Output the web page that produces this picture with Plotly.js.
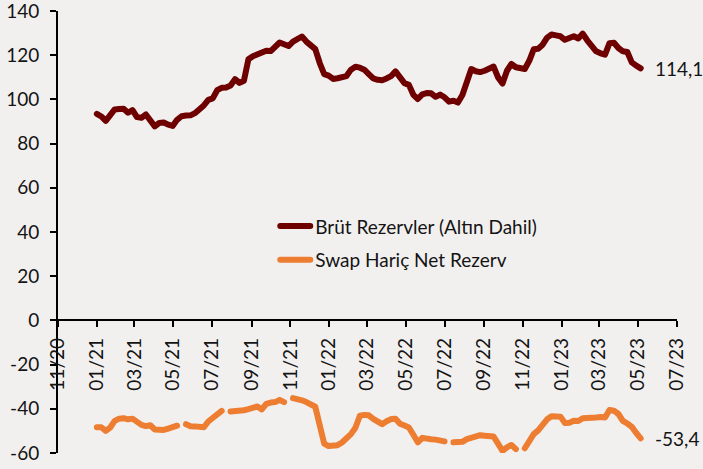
<!DOCTYPE html>
<html>
<head>
<meta charset="utf-8">
<script src="https://cdn.plot.ly/plotly-3.0.1.min.js"></script>
<style>
html,body{margin:0;padding:0;background:#f2f0ef;}
.scatterlayer path.js-line, .legend path.js-line{stroke-linecap:round !important;stroke-linejoin:round !important;}
</style>
</head>
<body>
<div id="chart" style="width:703px;height:469px;"></div>
<script>
const dates = [
"2021-01-01","2021-01-08","2021-01-15","2021-01-22","2021-01-29","2021-02-05","2021-02-12","2021-02-19","2021-02-26","2021-03-05",
"2021-03-12","2021-03-19","2021-03-26","2021-04-02","2021-04-09","2021-04-16","2021-04-23","2021-04-30","2021-05-07","2021-05-14",
"2021-05-21","2021-05-28","2021-06-04","2021-06-11","2021-06-18","2021-06-25","2021-07-02","2021-07-09","2021-07-16","2021-07-23",
"2021-07-30","2021-08-06","2021-08-13","2021-08-20","2021-08-27","2021-09-03","2021-09-10","2021-09-17","2021-09-24","2021-10-01",
"2021-10-08","2021-10-15","2021-10-22","2021-10-29","2021-11-05","2021-11-12","2021-11-19","2021-11-26","2021-12-03","2021-12-10",
"2021-12-17","2021-12-24","2021-12-31","2022-01-07","2022-01-14","2022-01-21","2022-01-28","2022-02-04","2022-02-11","2022-02-18",
"2022-02-25","2022-03-04","2022-03-11","2022-03-18","2022-03-25","2022-04-01","2022-04-08","2022-04-15","2022-04-22","2022-04-29",
"2022-05-06","2022-05-13","2022-05-20","2022-05-27","2022-06-03","2022-06-10","2022-06-17","2022-06-24","2022-07-01","2022-07-08",
"2022-07-15","2022-07-22","2022-07-29","2022-08-05","2022-08-12","2022-08-19","2022-08-26","2022-09-02","2022-09-09","2022-09-16",
"2022-09-23","2022-09-30","2022-10-07","2022-10-14","2022-10-21","2022-10-28","2022-11-04","2022-11-11","2022-11-18","2022-11-25",
"2022-12-02","2022-12-09","2022-12-16","2022-12-23","2022-12-30","2023-01-06","2023-01-13","2023-01-20","2023-01-27","2023-02-03",
"2023-02-10","2023-02-17","2023-02-24","2023-03-03","2023-03-10","2023-03-17","2023-03-24","2023-03-31","2023-04-07","2023-04-14",
"2023-04-21","2023-04-28","2023-05-05"
];

const brutRezerv = [
93.5,92.3,90.3,93.5,95.5,95.7,95.8,94.0,95.2,92.0,
91.7,93.2,90.8,87.8,89.4,89.6,88.6,88.0,90.8,92.4,
92.7,92.8,93.8,95.2,97.3,99.8,100.5,104.2,105.3,105.4,
106.3,109.2,107.5,108.5,118.2,119.6,120.3,120.9,122.1,121.9,
123.8,125.8,125.0,124.2,126.2,127.5,128.5,126.2,124.8,122.8,
116.5,111.5,110.8,109.3,109.6,109.8,110.6,113.5,114.8,114.4,
113.5,111.5,109.5,108.9,108.7,109.5,110.6,112.7,109.7,107.4,
106.6,102.1,100.2,102.3,102.9,102.8,101.2,102.2,101.0,99.0,
99.4,98.6,102.0,109.0,113.8,112.8,112.4,113.0,113.8,114.9,
110.0,107.2,113.0,116.1,114.6,114.1,113.8,117.5,122.7,123.0,
124.8,128.0,129.4,129.0,128.6,127.0,127.6,128.6,127.6,129.8,
126.8,123.8,121.8,120.9,120.3,125.5,125.7,123.3,121.8,121.5,
116.8,115.3,114.1
];

const swapHaricNet = [
-48.4,-48.4,-50.0,-48.5,-45.5,-44.5,-44.3,-44.8,-44.5,-46.2,
-47.3,-47.9,-47.5,-49.4,-49.6,-49.6,-49.0,-48.5,-47.7,null,
-47.0,-47.9,-48.0,-48.1,-48.4,-45.8,-44.3,-42.6,-41.0,null,
-41.3,-41.3,-41.2,-40.7,-40.2,-39.6,-39.0,-40.3,-37.8,-37.2,
-37.0,-36.0,-37.0,null,-35.2,-35.5,-36.2,-37.0,-38.3,-39.1,
-47.5,-55.8,-56.9,-56.8,-56.5,-55.3,-53.6,-51.5,-48.6,-43.2,
-42.8,-43.0,-44.6,-46.0,-47.0,-45.7,-44.7,-44.5,-46.8,-47.6,
-48.5,-51.8,-55.2,-53.2,-53.2,-53.8,-54.0,-54.3,-54.8,null,
-55.2,-55.2,-55.0,-53.8,-53.0,-52.1,-52.0,-52.2,-52.4,-52.6,
-55.8,-59.1,-57.5,-56.4,-58.3,null,-57.9,-54.5,-51.5,-49.8,
-47.0,-44.8,-43.4,-43.2,-43.6,-46.5,-46.4,-45.5,-45.6,-44.3,
-44.3,-44.6,-44.0,-43.8,-44.0,-40.6,-40.9,-42.4,-45.5,-46.7,
-48.2,-51.0,-53.4
];

const seriesNames = ["Brüt Rezervler (Altın Dahil)", "Swap Hariç Net Rezerv"];
const yTicks = [-60,-40,-20,0,20,40,60,80,100,120,140];

const fmt = v => String(v.toFixed(1)).replace('.', ',');
const lastIdx = dates.length - 1;

const traces = [
  {x: dates, y: brutRezerv, name: seriesNames[0], type: 'scatter', mode: 'lines',
   legendgroup: 'a', line: {color: '#6e0000', width: 6}, connectgaps: false},
  {x: dates, y: swapHaricNet, name: seriesNames[1], type: 'scatter', mode: 'lines',
   legendgroup: 'b', line: {color: '#ed7d31', width: 6}, connectgaps: false}
];

const layout = {
  width: 703, height: 469,
  paper_bgcolor: '#f2f0ef', plot_bgcolor: '#f2f0ef',
  margin: {l: 58, r: 26, t: 11, b: 16},
  font: {family: 'Lato, "Open Sans", sans-serif', size: 19, color: '#141414'},
  showlegend: true,
  legend: {x: 0.351, y: 0.556, xanchor: 'left', yanchor: 'top', bgcolor: 'rgba(0,0,0,0)',
           traceorder: 'grouped', tracegroupgap: 6, font: {size: 19}},
  xaxis: {type: 'date', range: ['2020-11-01', '2023-07-01'], anchor: 'free', position: 0.3,
          showgrid: false, zeroline: false, showline: true, linecolor: '#000', linewidth: 2,
          ticks: 'outside', ticklen: 6, tickwidth: 2, tickcolor: '#000',
          dtick: 'M2', tick0: '2020-11-01', tickformat: '%m/%y', tickangle: -90,
          ticklabelstandoff: 3, ticklabeloverflow: 'allow', fixedrange: true},
  yaxis: {range: [-60.05, 140.05], tickvals: yTicks, ticktext: yTicks.map(v => String(v)),
          showgrid: false, zeroline: false, showline: true, linecolor: '#000', linewidth: 2,
          ticks: 'outside', ticklen: 6, tickwidth: 2, tickcolor: '#000',
          ticklabelstandoff: 7, ticklabeloverflow: 'allow', fixedrange: true},
  annotations: [
    {x: dates[lastIdx], y: brutRezerv[lastIdx], xref: 'x', yref: 'y', text: fmt(brutRezerv[lastIdx]),
     showarrow: false, xanchor: 'left', xshift: 12, font: {size: 19, color: '#141414'}},
    {x: dates[lastIdx], y: swapHaricNet[lastIdx], xref: 'x', yref: 'y', text: fmt(swapHaricNet[lastIdx]),
     showarrow: false, xanchor: 'left', xshift: 12, font: {size: 19, color: '#141414'}}
  ]
};

Plotly.newPlot('chart', traces, layout, {displayModeBar: false, staticPlot: true});
</script>
</body>
</html>
